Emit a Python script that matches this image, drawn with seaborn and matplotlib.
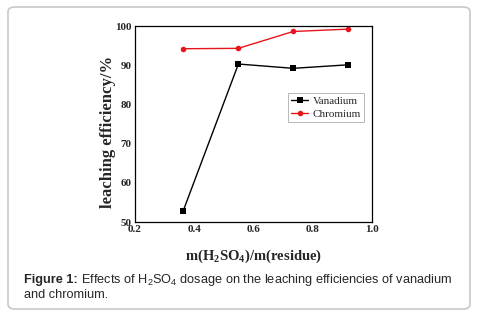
import matplotlib
matplotlib.use("Agg")
import matplotlib.pyplot as plt
from matplotlib.patches import FancyBboxPatch
from matplotlib.ticker import MultipleLocator
import pandas as pd
import seaborn as sns

# acid / residue mass ratio
ratio = [0.362, 0.549, 0.734, 0.919]
vanadium = [52.7, 90.3, 89.2, 90.1]
chromium = [94.2, 94.3, 98.6, 99.2]

df = pd.concat([
    pd.DataFrame({"ratio": ratio, "eff": vanadium, "metal": "Vanadium"}),
    pd.DataFrame({"ratio": ratio, "eff": chromium, "metal": "Chromium"}),
])

sns.set_style("white")
plt.rcParams["font.family"] = ["Liberation Serif", "DejaVu Serif"]
plt.rcParams["mathtext.fontset"] = "custom"
plt.rcParams["mathtext.rm"] = "Liberation Serif:bold"
plt.rcParams["mathtext.bf"] = "Liberation Serif:bold"

fig = plt.figure(figsize=(4.78, 3.15), dpi=100)
box = FancyBboxPatch((8 / 478, 6 / 315), 462 / 478, 302 / 315,
                     boxstyle="round,pad=0,rounding_size=0.015",
                     transform=fig.transFigure, facecolor="white",
                     edgecolor="#c8c8c8", linewidth=1.2, zorder=-10)
fig.patches.append(box)

ax = fig.add_axes([135 / 478, 93 / 315, 237 / 478, 196 / 315])
ax.patch.set_alpha(0)
sns.lineplot(data=df, x="ratio", y="eff", hue="metal", style="metal",
             palette={"Vanadium": "black", "Chromium": "#e8141c"},
             markers={"Vanadium": "s", "Chromium": "o"}, dashes=False,
             markersize=4, markeredgewidth=0, linewidth=1.0, ax=ax)

ax.set_xlim(0.2, 1.0)
ax.set_ylim(50, 100)
ax.xaxis.set_major_locator(MultipleLocator(0.2))
ax.xaxis.set_minor_locator(MultipleLocator(0.1))
ax.yaxis.set_major_locator(MultipleLocator(10))
ax.yaxis.set_minor_locator(MultipleLocator(5))
ax.tick_params(which="both", direction="in", top=False, right=False,
               labelsize=8, pad=2.5)
ax.tick_params(which="major", length=3, width=0.8)
ax.tick_params(which="minor", length=1.8, width=0.6)
ax.set_xticks([0.2, 0.4, 0.6, 0.8, 1.0])
ax.set_xticklabels(["0.2", "0.4", "0.6", "0.8", "1.0"])
for lab in ax.get_xticklabels() + ax.get_yticklabels():
    lab.set_fontweight("bold")
for s in ax.spines.values():
    s.set_linewidth(0.9)
    s.set_color("black")

ax.set_xlabel(r"m(H$_2$SO$_4$)/m(residue)", fontsize=10.5, fontweight="bold",
              labelpad=9.5)
ax.set_ylabel("leaching efficiency/%", fontsize=12, fontweight="bold")
ax.yaxis.set_label_coords(-0.082, 0.46)

leg = ax.legend(loc="upper left", bbox_to_anchor=(0.646, 0.658), fontsize=8,
                frameon=True, fancybox=False, edgecolor="#999999",
                handlelength=1.5, borderpad=0.3, labelspacing=0.28,
                handletextpad=0.4, borderaxespad=0)
leg.get_frame().set_linewidth(0.6)

sans = ["Liberation Sans", "DejaVu Sans"]
t1 = fig.text(24 / 478, 32 / 315, "Figure 1:", fontsize=9.2, fontweight="bold",
              family=sans, va="baseline")
fig.canvas.draw()
x1 = t1.get_window_extent().x1 / fig.bbox.width
plt.rcParams["mathtext.rm"] = "Liberation Sans"
fig.text(x1 + 3 / 478, 32 / 315,
         r"Effects of H$_2$SO$_4$ dosage on the leaching efficiencies of vanadium",
         fontsize=9.2, family=sans, va="baseline")
fig.text(24 / 478, 17 / 315, "and chromium.", fontsize=9.2,
         family=sans, va="baseline")

fig.savefig("out.png", dpi=100)
